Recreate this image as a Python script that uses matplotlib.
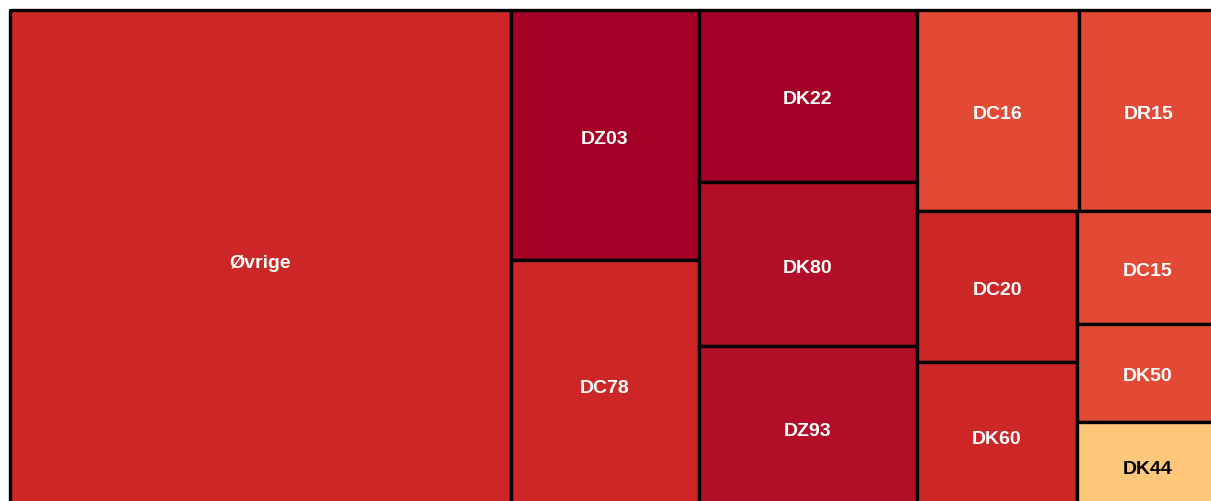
import matplotlib

matplotlib.use("Agg")
import matplotlib.pyplot as plt
from matplotlib.patches import Rectangle

# diagnosis codes, sorted by size (largest first)
labels = ["Øvrige", "DZ03", "DC78", "DK22", "DK80", "DZ93", "DC16",
          "DR15", "DC20", "DK60", "DC15", "DK50", "DK44"]
values = [250.0, 47.0, 46.8, 37.5, 35.8, 35.5, 32.6,
          27.9, 24.2, 23.5, 15.9, 13.8, 12.3]
colors = ["#cc2626", "#a50026", "#cc2626", "#a50026", "#b20e28", "#b20e28", "#e34a35",
          "#e34a35", "#cc2626", "#cc2626", "#e34a35", "#e34a35", "#fec77a"]
text_colors = ["white"] * 12 + ["black"]


def squarify(vals, x0, y0, x1, y1, ratio=1.0):
    """Squarified treemap (same scheme as d3.treemapSquarify), y grows downward."""
    boxes = []
    total = sum(vals)
    i0, n = 0, len(vals)
    while i0 < n:
        dx, dy = x1 - x0, y1 - y0
        s = vals[i0]
        i1 = i0 + 1
        lo = hi = s
        alpha = max(dy / dx, dx / dy) / (total * ratio)
        beta = s * s * alpha
        best = max(hi / beta, beta / lo)
        while i1 < n:
            v = vals[i1]
            s2 = s + v
            lo2, hi2 = min(lo, v), max(hi, v)
            beta = s2 * s2 * alpha
            r = max(hi2 / beta, beta / lo2)
            if r > best:
                break
            s, lo, hi, best = s2, lo2, hi2, r
            i1 += 1
        row = vals[i0:i1]
        if dx < dy:
            ye = y0 + dy * s / total
            x = x0
            for v in row:
                w = dx * v / s
                boxes.append((x, y0, x + w, ye))
                x += w
            y0 = ye
        else:
            xe = x0 + dx * s / total
            y = y0
            for v in row:
                h = dy * v / s
                boxes.append((x0, y, xe, y + h))
                y += h
            x0 = xe
        total -= s
        i0 = i1
    return boxes


fig = plt.figure(figsize=(12.11, 5.02), dpi=100)
ax = fig.add_axes([0, 0, 1, 1])
ax.set_xlim(0, 1211)
ax.set_ylim(502, 0)
ax.axis("off")

boxes = squarify(values, 10, 11, 1218, 510)
for (bx0, by0, bx1, by1), lab, col, tcol in zip(boxes, labels, colors, text_colors):
    ax.add_patch(Rectangle((bx0, by0), bx1 - bx0, by1 - by0, facecolor=col,
                           edgecolor="black", linewidth=2.4, joinstyle="round"))
    ax.text((bx0 + bx1) / 2, (by0 + by1) / 2 + 3, lab, color=tcol, fontsize=14,
            fontweight="bold", family=["Liberation Sans", "DejaVu Sans"],
            ha="center", va="center")

fig.savefig("out.png", dpi=100)
plt.close(fig)
